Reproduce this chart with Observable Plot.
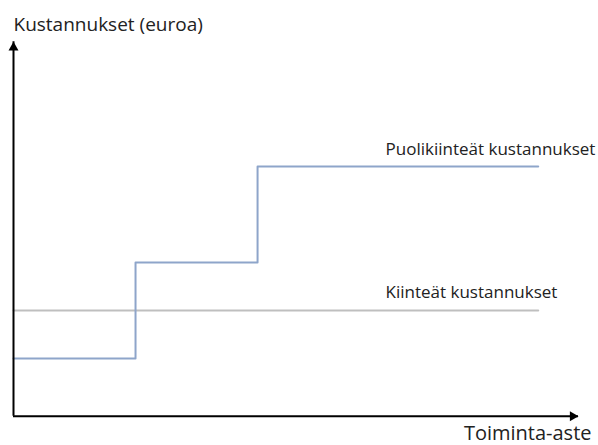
<!DOCTYPE html>
<html>
<head>
<meta charset="utf-8">
<script src="https://cdn.jsdelivr.net/npm/d3@7"></script>
<script src="https://cdn.jsdelivr.net/npm/@observablehq/plot@0.6"></script>
<style>
  html, body { margin: 0; padding: 0; background: #fff; }
  #chart svg { display: block; }
</style>
</head>
<body>
<div id="chart"></div>
<script>
// Data (arbitrary units)
const activity = [0, 1, 2, 4.3];          // toiminta-aste breakpoints
const semiFixedCost = [1.2, 3.2, 5.2, 5.2]; // puolikiinteät kustannukset (step-after)
const fixedCostLevel = 2.2;                 // kiinteät kustannukset
const xAxisEnd = 4.63;
const yAxisEnd = 7.8;
const yTitle = "Kustannukset (euroa)";
const xTitle = "Toiminta-aste";
const semiLabel = "Puolikiinteät kustannukset";
const fixedLabel = "Kiinteät kustannukset";

const semiData = activity.map((a, i) => ({x: a, y: semiFixedCost[i]}));
const fixedData = [{x: activity[0], y: fixedCostLevel}, {x: activity[activity.length - 1], y: fixedCostLevel}];

const font = "'Open Sans', sans-serif";
const fs = 17;

const chart = Plot.plot({
  width: 598,
  height: 445,
  margin: 0,
  style: {fontFamily: font, fontSize: fs + "px", background: "#fff"},
  x: {domain: [0, xAxisEnd], range: [13, 578], axis: null},
  y: {domain: [0, yAxisEnd], range: [415.7, 41.3], axis: null},
  marks: [
    Plot.line(fixedData, {x: "x", y: "y", stroke: "#BFBFBF", strokeWidth: 2}),
    Plot.line(semiData, {x: "x", y: "y", curve: "step-after", stroke: "#8EA5CA", strokeWidth: 2}),
    // axes
    Plot.ruleY([0], {x1: 0, x2: xAxisEnd, stroke: "#000", strokeWidth: 2}),
    Plot.ruleX([0], {y1: 0, y2: yAxisEnd, stroke: "#000", strokeWidth: 2}),
    Plot.dot([{x: 0, y: yAxisEnd}], {x: "x", y: "y", symbol: "triangle", r: 3.7, fill: "#000", stroke: null, dy: 5.77}),
    Plot.dot([{x: xAxisEnd, y: 0}], {x: "x", y: "y", symbol: "triangle", r: 3.7, fill: "#000", stroke: null, rotate: 90, dx: -5.77}),
    // texts
    Plot.text([yTitle], {x: 0, y: yAxisEnd, text: d => d, textAnchor: "start", dy: -16.4, fill: "#222", fontSize: 19}),
    Plot.text([xTitle], {x: xAxisEnd, y: 0, text: d => d, textAnchor: "end", dx: 13, dy: 17, fill: "#222", fontSize: 20}),
    Plot.text([semiLabel], {x: activity[2], y: semiFixedCost[2], text: d => d, textAnchor: "start", dx: 128, dy: -17.5, fill: "#222", fontSize: fs}),
    Plot.text([fixedLabel], {x: activity[2], y: fixedCostLevel, text: d => d, textAnchor: "start", dx: 128, dy: -18, fill: "#222", fontSize: fs})
  ]
});
document.getElementById("chart").append(chart);
</script>
</body>
</html>
